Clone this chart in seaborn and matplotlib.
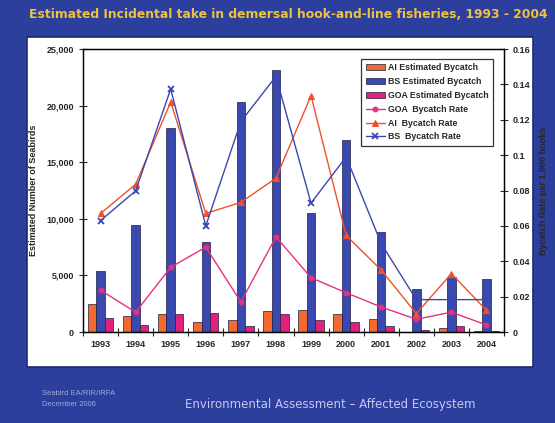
import pandas as pd
import numpy as np
import matplotlib
matplotlib.use('Agg')
import matplotlib.pyplot as plt
import seaborn as sns
from matplotlib.patches import Rectangle
from matplotlib.ticker import FuncFormatter, FixedLocator

# Data
years = ['1993', '1994', '1995', '1996', '1997', '1998',
         '1999', '2000', '2001', '2002', '2003', '2004']
ai_bycatch = [2430, 1410, 1590, 850, 1020, 1820, 1900, 1550, 1150, 40, 370, 80]
bs_bycatch = [5380, 9460, 18050, 7940, 20320, 23150, 10470, 16950, 8840, 3780, 4860, 4700]
goa_bycatch = [1260, 590, 1590, 1680, 560, 1620, 1030, 840, 500, 220, 560, 120]
goa_rate = [0.0236, 0.0112, 0.0366, 0.048, 0.017, 0.0538, 0.0307, 0.0222, 0.0141, 0.0072, 0.0112, 0.0040]
ai_rate = [0.067, 0.0835, 0.130, 0.067, 0.0733, 0.087, 0.1336, 0.0546, 0.035, 0.0104, 0.033, 0.0123]
bs_rate = [0.063, 0.0798, 0.1374, 0.060, 0.119, 0.1445, 0.0729, 0.099, 0.050, 0.0183, 0.0183, 0.0183]

series_names = ['AI Estimated Bycatch', 'BS Estimated Bycatch', 'GOA Estimated Bycatch']
bar_colors = ['#F26A2E', '#3A49B0', '#E0227C']

bars = pd.DataFrame({
    'Year': years * 3,
    'Bycatch': ai_bycatch + bs_bycatch + goa_bycatch,
    'Series': [n for n in series_names for _ in years],
})

sns.set_style('ticks')
plt.rcParams['font.family'] = ['Liberation Sans', 'DejaVu Sans']

fig = plt.figure(figsize=(5.55, 4.23), dpi=100)
fig.patch.set_facecolor('#2D3F9C')

# white chart panel on the slide
fig.patches.append(Rectangle((27 / 555, 1 - 367 / 423), 506 / 555, 330 / 423,
                             transform=fig.transFigure, facecolor='white',
                             edgecolor='#1C2A70', linewidth=1.2, zorder=-5))

ax = fig.add_axes([83 / 555, 1 - 332 / 423, 421 / 555, 283 / 423])
ax.set_facecolor('white')
sns.barplot(data=bars, x='Year', y='Bycatch', hue='Series', palette=bar_colors,
            saturation=1, width=0.72, edgecolor='#1E1E40', linewidth=0.5,
            ax=ax, legend=True)

ax.set_ylim(0, 25000)
ax.set_xlim(-0.5, 11.5)
ax.yaxis.set_major_locator(FixedLocator([0, 5000, 10000, 15000, 20000, 25000]))
ax.yaxis.set_major_formatter(FuncFormatter(lambda v, p: f'{int(v):,}'))
ax.set_ylabel('Estimated Number of Seabirds', fontsize=6.5, fontweight='bold', labelpad=6)
ax.set_xlabel('')

# year labels centred, tick marks on group boundaries
ax.set_xticks(np.arange(-0.5, 12, 1))
ax.set_xticklabels([])
ax.set_xticks(np.arange(len(years)), minor=True)
ax.set_xticklabels(years, minor=True, fontsize=6.5, fontweight='bold')
ax.tick_params(axis='x', which='major', direction='inout', length=6, width=0.8)
ax.tick_params(axis='x', which='minor', length=0, pad=6)
ax.tick_params(axis='y', direction='inout', length=6, width=0.8, labelsize=6.5)
for lab in ax.get_yticklabels():
    lab.set_fontweight('bold')

# rates on the secondary axis
ax2 = ax.twinx()
pos = np.arange(len(years))
sns.lineplot(x=pos, y=goa_rate, color='#E8307F', marker='o', markersize=3.5,
             markeredgecolor='#E8307F', linewidth=1.0, label='GOA  Bycatch Rate', ax=ax2)
sns.lineplot(x=pos, y=ai_rate, color='#F2502A', marker='^', markersize=4,
             markeredgecolor='#F2502A', linewidth=1.0, label='AI  Bycatch Rate', ax=ax2)
sns.lineplot(x=pos, y=bs_rate, color='#3A46B4', marker='x', markersize=4,
             markeredgecolor='#3A46B4', markeredgewidth=1.3, linewidth=1.0,
             label='BS  Bycatch Rate', ax=ax2)
ax2.set_ylim(0, 0.16)
ax2.set_xlim(-0.5, 11.5)
ax2.yaxis.set_major_locator(FixedLocator(np.arange(0, 0.161, 0.02)))
ax2.yaxis.set_major_formatter(FuncFormatter(lambda v, p: f'{round(v, 2):g}'))
ax2.set_ylabel('Bycatch Rate per 1,000 hooks', fontsize=6.5, fontweight='bold', labelpad=6)
ax2.tick_params(axis='y', direction='inout', length=6, width=0.8, labelsize=6.5)
for lab in ax2.get_yticklabels():
    lab.set_fontweight('bold')

for a in (ax, ax2):
    for s in a.spines.values():
        s.set_color('black')
        s.set_linewidth(0.9)

# combined legend
h1, l1 = ax.get_legend_handles_labels()
h2, l2 = ax2.get_legend_handles_labels()
ax.get_legend().remove()
leg = ax2.legend(h1 + h2, l1 + l2, loc='upper right', bbox_to_anchor=(0.985, 0.98),
                 fontsize=6.3, frameon=True, fancybox=False, handlelength=2.2,
                 borderpad=0.5, labelspacing=0.55, handletextpad=0.4)
leg.get_frame().set_edgecolor('black')
leg.get_frame().set_linewidth(0.9)
for t in leg.get_texts():
    t.set_fontweight('bold')

# slide title and footer
fig.text(29 / 555, 1 - 15 / 423,
         'Estimated Incidental take in demersal hook-and-line fisheries, 1993 - 2004',
         fontsize=8.9, fontweight='bold', color='#EEC23C', va='center',
         family=['DejaVu Sans'])
fig.text(42 / 555, 1 - 393 / 423, 'Seabird EA/RIR/IRFA', fontsize=5.5, color='#9FA8D6', va='center')
fig.text(42 / 555, 1 - 404 / 423, 'December 2006', fontsize=5.5, color='#9FA8D6', va='center')
fig.text(185 / 555, 1 - 404 / 423, 'Environmental Assessment \u2013 Affected Ecosystem',
         fontsize=8.5, color='#C9C6F2', va='center', family=['DejaVu Sans'])

fig.savefig('out.png', dpi=100, facecolor=fig.get_facecolor())
